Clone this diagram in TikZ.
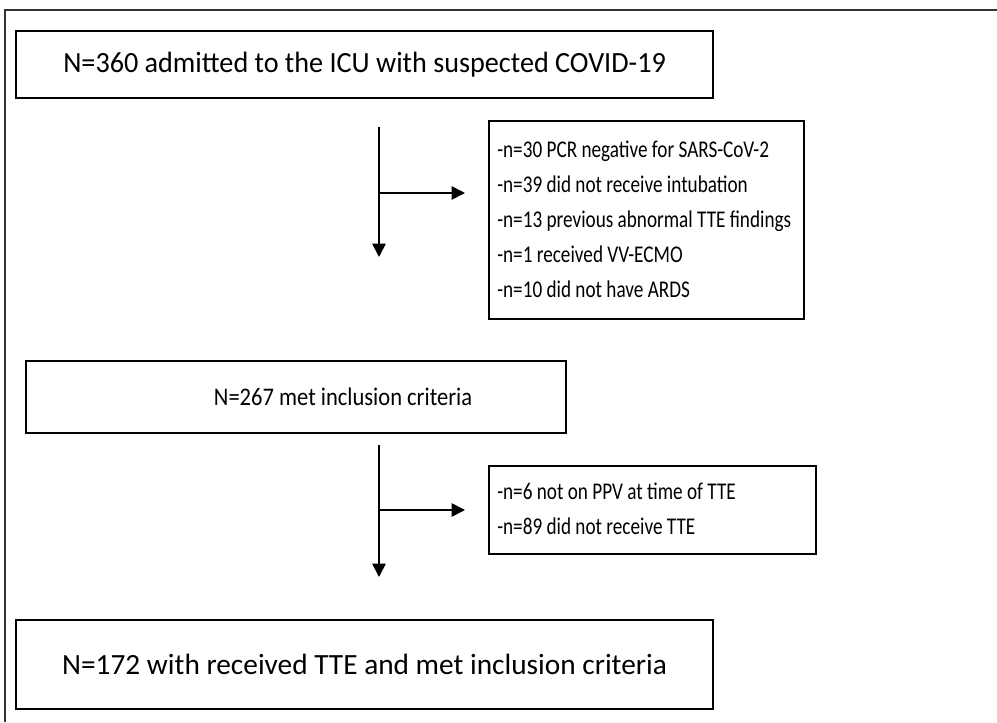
\documentclass[tikz,border=0pt]{standalone}
\usepackage{fontspec}
\setmainfont{Carlito}
\usetikzlibrary{arrows.meta}
\newcommand{\listtext}[1]{\scalebox{0.8}[1]{\fontsize{18}{26.25}\selectfont\begin{tabular}{@{}l@{}}#1\end{tabular}}}
\begin{document}
\begin{tikzpicture}[x=0.75pt,y=-0.75pt,
  box/.style={draw=black,line width=1.6pt,inner sep=0pt},
  flow/.style={line width=1.3pt,-{Triangle[length=10pt,width=10pt]}},
  cond/.style={font=\fontsize{22}{24}\selectfont},
  lst/.style={anchor=west,inner sep=0pt}]
\useasboundingbox (0,0) rectangle (997,722);
% outer frame (partially visible)
\draw[line width=0.9pt,draw=black!80] (5,722) -- (5,10) -- (997,10);
% boxes
\node[box,minimum width=697*0.75pt,minimum height=67*0.75pt,anchor=north west] (b1) at (15,30) {};
\node[cond] (t1) at (b1.center) {\scalebox{0.96}[1]{N=360 admitted to the ICU with suspected COVID-19}};
\node[box,minimum width=315*0.75pt,minimum height=198*0.75pt,anchor=north west] (b2) at (488,120) {};
\node[lst] (t2) at ([xshift=9*0.75pt]b2.west) {\listtext{-n=30 PCR negative for SARS-CoV-2\\-n=39 did not receive intubation\\-n=13 previous abnormal TTE findings\\-n=1 received VV-ECMO\\-n=10 did not have ARDS}};
\node[box,minimum width=540*0.75pt,minimum height=72*0.75pt,anchor=north west] (b3) at (25,360) {};
\node[font=\fontsize{19}{22}\selectfont] (t3) at ([xshift=47*0.75pt]b3.center) {\scalebox{0.89}[1]{N=267 met inclusion criteria}};
\node[box,minimum width=327*0.75pt,minimum height=88*0.75pt,anchor=north west] (b4) at (488,465) {};
\node[lst] (t4) at ([xshift=9*0.75pt]b4.west) {\listtext{-n=6 not on PPV at time of TTE\\-n=89 did not receive TTE}};
\node[box,minimum width=697*0.75pt,minimum height=89*0.75pt,anchor=north west] (b5) at (15,619) {};
\node[cond] (t5) at (b5.center) {\scalebox{1.0}[1]{N=172 with received TTE and met inclusion criteria}};
% arrows
\coordinate (a1s) at (379,127);
\coordinate (a1e) at (379,257);
\coordinate (a1m) at (379,193);
\coordinate (a1r) at (465,193);
\draw[flow] (a1s) -- (a1e);
\draw[flow] (a1m) -- (a1r);
\coordinate (a2s) at (379,445);
\coordinate (a2e) at (379,577);
\coordinate (a2m) at (379,510);
\coordinate (a2r) at (465,510);
\draw[flow] (a2s) -- (a2e);
\draw[flow] (a2m) -- (a2r);
\end{tikzpicture}
\end{document}
